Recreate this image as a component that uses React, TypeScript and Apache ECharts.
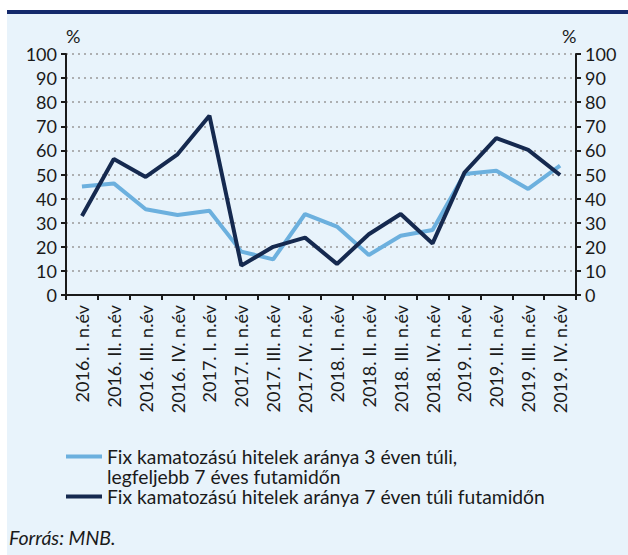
import React, { useEffect, useRef } from "react";
import * as echarts from "echarts";

const categories = [
  "2016. I. n.év", "2016. II. n.év", "2016. III. n.év", "2016. IV. n.év",
  "2017. I. n.év", "2017. II. n.év", "2017. III. n.év", "2017. IV. n.év",
  "2018. I. n.év", "2018. II. n.év", "2018. III. n.év", "2018. IV. n.év",
  "2019. I. n.év", "2019. II. n.év", "2019. III. n.év", "2019. IV. n.év",
];
const series3to7 = [45, 46.3, 35.6, 33.2, 35, 18, 14.8, 33.6, 28.4, 16.6, 24.6, 27, 50.2, 51.6, 44, 53.7];
const seriesOver7 = [32.8, 56.4, 49, 58.4, 74.4, 12.2, 20, 23.8, 12.9, 25.2, 33.6, 21.4, 50.8, 65.1, 60.2, 49.8];
const name1 = "Fix kamatozású hitelek aránya 3 éven túli,\nlegfeljebb 7 éves futamidőn";
const name2 = "Fix kamatozású hitelek aránya 7 éven túli futamidőn";
const sourceText = "Forrás: MNB.";

const FONT = "Lato";
const LIGHT = "#6cb0de";
const DARK = "#15294f";
const TEXT = "#1a1a1a";

export default function App() {
  const ref = useRef<HTMLDivElement>(null);
  useEffect(() => {
    const chart = echarts.init(ref.current!, null, { renderer: "svg" });
    const yAxisBase = (pos: "left" | "right") => ({
      type: "value" as const,
      position: pos,
      min: 0,
      max: 100,
      interval: 10,
      axisLine: { show: true, lineStyle: { color: TEXT, width: 2 } },
      axisTick: { show: true, length: 5, lineStyle: { color: TEXT, width: 2 } },
      axisLabel: { color: TEXT, fontSize: 18, fontFamily: FONT, margin: 9 },
      splitLine: pos === "left"
        ? { show: true, lineStyle: { color: "#999", width: 1.5, type: [2, 4] } }
        : { show: false },
    });
    chart.setOption({
      animation: false,
      backgroundColor: "transparent",
      grid: { left: 66, right: 52, top: 54, bottom: 260, containLabel: false },
      xAxis: {
        type: "category",
        data: categories,
        boundaryGap: true,
        axisLine: { show: true, lineStyle: { color: TEXT, width: 2 } },
        axisTick: { show: true, length: 5, alignWithLabel: false, lineStyle: { color: TEXT, width: 2 } },
        axisLabel: { rotate: 90, interval: 0, color: TEXT, fontSize: 18, fontFamily: FONT, margin: 10 },
      },
      yAxis: [yAxisBase("left"), yAxisBase("right")],
      legend: {
        orient: "vertical",
        left: 66,
        top: 447,
        padding: 0,
        itemWidth: 36,
        itemHeight: 4,
        itemGap: 21,
        icon: "rect",
        textStyle: { fontSize: 19.3, lineHeight: 19, fontFamily: FONT, color: TEXT },
        formatter: (n: string) => n.split("\n")[0],
        data: [name1, name2],
      },
      series: [
        {
          name: name1,
          type: "line",
          data: series3to7,
          symbol: "none",
          lineStyle: { color: LIGHT, width: 4 },
          itemStyle: { color: LIGHT },
          yAxisIndex: 0,
        },
        {
          name: name2,
          type: "line",
          data: seriesOver7,
          symbol: "none",
          lineStyle: { color: DARK, width: 4 },
          itemStyle: { color: DARK },
          yAxisIndex: 0,
        },
      ],
      graphic: [
        { type: "rect", z: -10, shape: { x: 7, y: 13, width: 621, height: 542 }, style: { fill: "#e8f3fb" } },
        { type: "rect", z: 10, shape: { x: 7, y: 10, width: 621, height: 4 }, style: { fill: "#14296b" } },
        { type: "text", left: 66, top: 27, style: { text: "%", fontSize: 18, fontFamily: FONT, fill: TEXT } },
        { type: "text", left: 562, top: 27, style: { text: "%", fontSize: 18, fontFamily: FONT, fill: TEXT } },
        { type: "text", left: 107, top: 467, style: { text: "legfeljebb 7 éves futamidőn", fontSize: 19.3, lineHeight: 19, fontFamily: FONT, fill: TEXT } },
        { type: "text", left: 9, top: 527, style: { text: sourceText, fontSize: 19.5, fontStyle: "italic", fontFamily: FONT, fill: TEXT } },
      ],
    });
    return () => chart.dispose();
  }, []);
  return (
    <div
      ref={ref}
      style={{ position: "absolute", left: 0, top: 0, width: 628, height: 555 }}
    />
  );
}
